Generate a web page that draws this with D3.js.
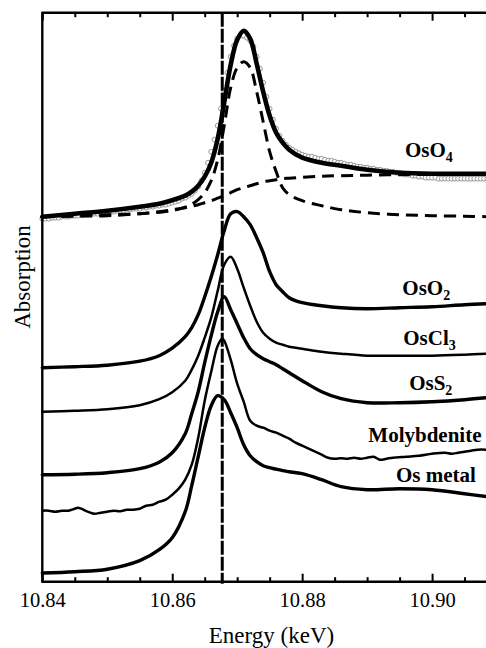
<!DOCTYPE html>
<html>
<head>
<meta charset="utf-8">
<script src="https://cdn.jsdelivr.net/npm/d3@7"></script>
<style>
  html, body { margin: 0; padding: 0; background: #fff; }
  svg { display: block; }
</style>
</head>
<body>
<svg id="chart" width="486" height="648"></svg>
<script>
// ---- Os L3-edge XANES spectra (absorption in arbitrary, stacked units) ----

// Common energy grid (keV) for the smooth spectra and the fit components
const energyGrid = [10.840, 10.845, 10.850, 10.855, 10.858, 10.860, 10.862, 10.863, 10.864, 10.865,
  10.866, 10.867, 10.868, 10.869, 10.870, 10.871, 10.872, 10.873, 10.874, 10.875,
  10.876, 10.877, 10.878, 10.880, 10.883, 10.886, 10.890, 10.895, 10.900, 10.905, 10.9085];

// OsO4: least-squares fit (solid) and its two components (dashed)
const osO4Fit = [36.5, 36.8, 37.1, 37.5, 37.8, 38.15, 38.6, 39.0, 39.6, 40.5,
  41.9, 44.3, 47.9, 51.7, 54.2, 55.1, 54.3, 51.8, 49.0, 46.6,
  44.9, 43.9, 43.2, 42.4, 41.9, 41.6, 41.2, 40.9, 40.8, 40.8, 40.8];
const osO4Peak = [36.5, 36.55, 36.6, 36.8, 36.95, 37.1, 37.45, 37.75, 38.2, 38.9,
  40.1, 42.2, 45.6, 49.4, 51.4, 52.0, 51.4, 49.0, 46.0, 43.0,
  41.0, 39.4, 38.7, 38.1, 37.6, 37.2, 36.9, 36.7, 36.6, 36.55, 36.5];
const osO4Step = [36.5, 36.6, 36.7, 36.8, 37.0, 37.2, 37.4, 37.55, 37.7, 37.9,
  38.1, 38.35, 38.6, 38.9, 39.2, 39.4, 39.6, 39.8, 40.0, 40.1,
  40.2, 40.3, 40.35, 40.45, 40.55, 40.6, 40.65, 40.7, 40.75, 40.8, 40.8];

// OsO4 measured points, sampled every 0.5 eV from 10.840 keV
const osO4DataStart = 10.840;
const osO4DataStep = 0.0005;
const osO4Data = [36.3, 36.3, 36.3, 36.4, 36.4, 36.4, 36.5, 36.5, 36.5, 36.6,
  36.6, 36.6, 36.7, 36.7, 36.7, 36.8, 36.8, 36.8, 36.9, 36.9,
  36.9, 37.0, 37.0, 37.1, 37.1, 37.1, 37.2, 37.2, 37.3, 37.3,
  37.3, 37.4, 37.4, 37.5, 37.5, 37.6, 37.6, 37.7, 37.7, 37.8,
  37.9, 38.0, 38.1, 38.3, 38.4, 38.6, 38.8, 39.1, 39.5, 40.1,
  40.9, 41.9, 43.0, 44.2, 45.6, 47.3, 49.1, 50.9, 52.5, 53.6,
  54.3, 54.6, 54.6, 54.4, 54.1, 53.5, 52.5, 51.3, 49.9, 48.5,
  47.3, 46.2, 45.3, 44.6, 44.1, 43.7, 43.4, 43.2, 43.0, 42.85,
  42.7, 42.6, 42.5, 42.5, 42.4, 42.3, 42.3, 42.2, 42.1, 42.1,
  42.0, 41.9, 41.9, 41.8, 41.7, 41.7, 41.6, 41.5, 41.5, 41.4,
  41.4, 41.3, 41.3, 41.2, 41.2, 41.1, 41.1, 41.0, 41.0, 40.9,
  40.9, 40.8, 40.7, 40.7, 40.6, 40.6, 40.5, 40.5, 40.4, 40.4,
  40.4, 40.4, 40.3, 40.3, 40.3, 40.3, 40.3, 40.3, 40.3, 40.3,
  40.3, 40.3, 40.3, 40.3, 40.3, 40.3, 40.3, 40.3];

// Reference compounds on the common grid
const osO2 = [21.4, 21.5, 21.65, 22.05, 22.6, 23.35, 24.5, 25.4, 26.7, 28.5,
  30.5, 32.7, 35.1, 36.8, 37.0, 36.5, 35.7, 34.4, 32.9, 31.0,
  29.7, 29.0, 28.4, 27.9, 27.6, 27.4, 27.3, 27.4, 27.5, 27.7, 27.8];
const osCl3 = [17.0, 17.1, 17.25, 17.65, 18.25, 18.95, 20.1, 21.2, 22.6, 24.4,
  26.4, 29.1, 31.7, 32.5, 31.3, 29.4, 27.6, 26.0, 24.9, 24.3,
  23.9, 23.7, 23.5, 23.3, 23.0, 22.8, 22.6, 22.6, 22.6, 22.7, 22.8];
const osS2 = [10.7, 10.75, 10.9, 11.3, 11.95, 12.9, 14.8, 16.8, 19.0, 21.9,
  24.6, 27.0, 28.5, 27.2, 25.8, 24.4, 23.3, 22.7, 22.3, 22.0,
  21.7, 21.3, 20.9, 20.1, 19.0, 18.3, 17.9, 17.9, 18.0, 18.2, 18.4];
const osMetal = [0.87, 1.0, 1.25, 2.1, 3.2, 4.4, 7.0, 9.6, 12.5, 15.4,
  17.6, 18.6, 18.2, 16.9, 15.4, 13.7, 12.6, 12.0, 11.6, 11.4,
  11.25, 11.1, 11.0, 10.8, 10.2, 9.5, 9.2, 9.3, 9.2, 8.8, 8.5];

// Molybdenite (noisier, own energy points)
const molyEnergy = [10.840, 10.841, 10.842, 10.843, 10.844, 10.845, 10.8455, 10.846, 10.847, 10.848,
  10.849, 10.850, 10.851, 10.852, 10.853, 10.854, 10.855, 10.856, 10.857, 10.858,
  10.859, 10.860, 10.861, 10.862, 10.863, 10.864, 10.865, 10.866, 10.867, 10.8677,
  10.868, 10.869, 10.870, 10.871, 10.872, 10.873, 10.874, 10.875, 10.876, 10.877,
  10.878, 10.879, 10.880, 10.881, 10.882, 10.883, 10.884, 10.885, 10.886, 10.887,
  10.888, 10.889, 10.890, 10.891, 10.892, 10.893, 10.894, 10.896, 10.898, 10.900,
  10.902, 10.903, 10.904, 10.905, 10.906, 10.907, 10.9085];
const molyAbs = [7.1, 7.1, 7.0, 7.1, 7.1, 7.3, 7.4, 7.3, 7.0, 6.8,
  6.9, 7.0, 7.1, 7.05, 7.2, 7.2, 7.3, 7.6, 7.7, 8.0,
  8.2, 8.7, 9.3, 10.2, 11.7, 14.4, 18.1, 21.0, 23.6, 24.3,
  24.1, 22.2, 19.8, 18.0, 16.1, 15.6, 15.4, 15.1, 14.9, 14.6,
  14.3, 13.9, 13.6, 13.3, 13.0, 12.7, 12.4, 12.3, 12.35, 12.3,
  12.4, 12.3, 12.4, 12.5, 12.2, 12.3, 12.4, 12.5, 12.6, 12.8,
  12.9, 12.8, 12.9, 13.0, 13.1, 13.2, 13.2];

// White-line position of OsO4 reference (keV)
const edgeMarker = 10.8677;

// Axis ticks
const majorTicks = [10.84, 10.86, 10.88, 10.90];
const minorTicks = [10.845, 10.850, 10.855, 10.865, 10.870, 10.875, 10.885, 10.890, 10.895, 10.905];

// Curve labels: main text, subscript, energy of label centre, absorption at baseline
const labelNames = ["OsO", "OsO", "OsCl", "OsS", "Molybdenite", "Os metal"];
const labelSubs = ["4", "2", "3", "2", "", ""];
const labelEnergy = [10.8995, 10.8991, 10.8996, 10.8998, 10.8989, 10.9006];
const labelAbs = [42.5, 28.7, 23.7, 19.2, 14.0, 10.0];

// ---- drawing ----
const svg = d3.select("#chart");
const plotLeft = 42.3, plotRight = 486, plotTop = 12.7, plotBottom = 581.7;
const x = d3.scaleLinear().domain([10.84, 10.9083]).range([plotLeft, plotRight]);
const y = d3.scaleLinear().domain([0, 56.9]).range([plotBottom, plotTop]);
const font = "'Liberation Serif', 'Times New Roman', Times, serif";

const smooth = d3.line().x(d => x(d[0])).y(d => y(d[1])).curve(d3.curveCatmullRom.alpha(0.5));
const onGrid = vals => energyGrid.map((e, i) => [e, vals[i]]);

const plot = svg.append("g");

// OsO4 measured points (gray open circles)
const pts = osO4Data.map((v, i) => [osO4DataStart + i * osO4DataStep, v]);
plot.append("g").selectAll("circle").data(pts).join("circle")
  .attr("cx", d => x(d[0])).attr("cy", d => y(d[1])).attr("r", 2.4)
  .attr("fill", "#fff").attr("stroke", "#8a8a8a").attr("stroke-width", 0.9);

// Fit components
[osO4Peak, osO4Step].forEach(vals => {
  plot.append("path").attr("d", smooth(onGrid(vals)))
    .attr("fill", "none").attr("stroke", "#000").attr("stroke-width", 3)
    .attr("stroke-dasharray", "12,7");
});

// Solid spectra
const series = [
  { vals: osO4Fit, w: 4.6 },
  { vals: osO2, w: 3.4 },
  { vals: osCl3, w: 2.5 },
  { vals: osS2, w: 3.4 },
  { vals: osMetal, w: 3.4 }
];
series.forEach(s => {
  plot.append("path").attr("d", smooth(onGrid(s.vals)))
    .attr("fill", "none").attr("stroke", "#000").attr("stroke-width", s.w)
    .attr("stroke-linejoin", "round").attr("stroke-linecap", "round");
});
plot.append("path").attr("d", smooth(molyEnergy.map((e, i) => [e, molyAbs[i]])))
  .attr("fill", "none").attr("stroke", "#000").attr("stroke-width", 2.5)
  .attr("stroke-linejoin", "round");

// Axes: bottom (labelled), top (ticks only), left (line only)
const axG = svg.append("g");
const bottomMajor = d3.axisBottom(x).tickValues(majorTicks).tickSize(-8).tickPadding(11)
  .tickFormat(d3.format(".2f"));
const bottomMinor = d3.axisBottom(x).tickValues(minorTicks).tickSize(-4.5).tickFormat("");
const topMajor = d3.axisTop(x).tickValues(majorTicks).tickSize(-8).tickFormat("");
const topMinor = d3.axisTop(x).tickValues(minorTicks).tickSize(-4.5).tickFormat("");

[[bottomMajor, plotBottom], [bottomMinor, plotBottom], [topMajor, plotTop], [topMinor, plotTop]].forEach(([ax, yy]) => {
  const g = axG.append("g").attr("transform", `translate(0,${yy})`).call(ax);
  g.select(".domain").remove();
  g.selectAll(".tick line").attr("stroke", "#000").attr("stroke-width", 2);
  g.selectAll(".tick text").attr("font-family", font).attr("font-size", 20.5).attr("fill", "#000");
});
axG.append("line").attr("x1", plotLeft - 1).attr("x2", plotRight).attr("y1", plotBottom).attr("y2", plotBottom)
  .attr("stroke", "#000").attr("stroke-width", 2.4);
axG.append("line").attr("x1", plotLeft - 1).attr("x2", plotRight).attr("y1", plotTop).attr("y2", plotTop)
  .attr("stroke", "#000").attr("stroke-width", 2.4);
axG.append("line").attr("x1", plotLeft).attr("x2", plotLeft).attr("y1", plotTop).attr("y2", plotBottom)
  .attr("stroke", "#000").attr("stroke-width", 2.4);

// Edge marker
svg.append("line").attr("x1", x(edgeMarker)).attr("x2", x(edgeMarker))
  .attr("y1", plotTop).attr("y2", plotBottom + 2)
  .attr("stroke", "#000").attr("stroke-width", 3).attr("stroke-dasharray", "14,2");

// Axis titles
svg.append("text").attr("x", 271.5).attr("y", 643).attr("text-anchor", "middle")
  .attr("font-family", font).attr("font-size", 23).text("Energy (keV)");
svg.append("text").attr("transform", "translate(30,277) rotate(-90)").attr("text-anchor", "middle")
  .attr("font-family", font).attr("font-size", 23).text("Absorption");

// Curve labels
labelNames.forEach((name, i) => {
  const t = svg.append("text").attr("x", x(labelEnergy[i])).attr("y", y(labelAbs[i]))
    .attr("text-anchor", "middle").attr("font-family", font).attr("font-weight", "bold")
    .attr("font-size", 21);
  t.append("tspan").text(name);
  if (labelSubs[i]) t.append("tspan").attr("font-size", 14).attr("dy", 5).text(labelSubs[i]);
});
</script>
</body>
</html>
